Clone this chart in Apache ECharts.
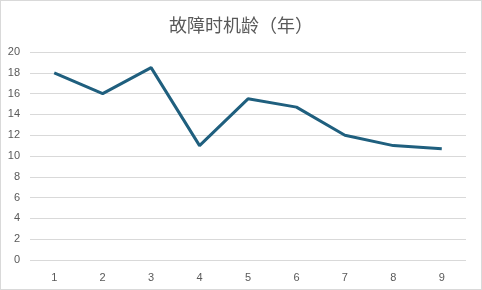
<!DOCTYPE html>
<html><head><meta charset="utf-8">
<script src="https://cdn.jsdelivr.net/npm/echarts@6/dist/echarts.min.js"></script>
<style>html,body{margin:0;padding:0;background:#fff}#c{width:482px;height:290px;box-sizing:border-box;border:1px solid #d9d9d9}</style>
</head><body><div id="c"></div>
<script>
const titleText = '故障时机龄（年）';
const categories = ['1','2','3','4','5','6','7','8','9'];
const values = [18, 16, 18.5, 11, 15.5, 14.7, 12, 11, 10.7];
const chart = echarts.init(document.getElementById('c'));
chart.setOption({
  animation: false,
  title: {text: titleText, left: 'center', top: 10, textStyle: {fontFamily: 'Noto Sans CJK SC', fontSize: 18, fontWeight: 'normal', color: '#595959'}},
  grid: {left: 29, right: 15, top: 51, bottom: 29},
  xAxis: {type: 'category', data: categories, axisLine: {show: false}, axisTick: {show: false},
    axisLabel: {color: '#595959', fontSize: 11, fontFamily: 'Liberation Sans', margin: 12}},
  yAxis: {type: 'value', min: 0, max: 20, interval: 2, axisLine: {show: false}, axisTick: {show: false},
    splitLine: {lineStyle: {color: '#d9d9d9'}},
    axisLabel: {color: '#595959', fontSize: 11, fontFamily: 'Liberation Sans', margin: 10}},
  series: [{type: 'line', data: values, symbol: 'none', lineStyle: {color: '#1f5f7e', width: 3}}]
});
</script></body></html>
